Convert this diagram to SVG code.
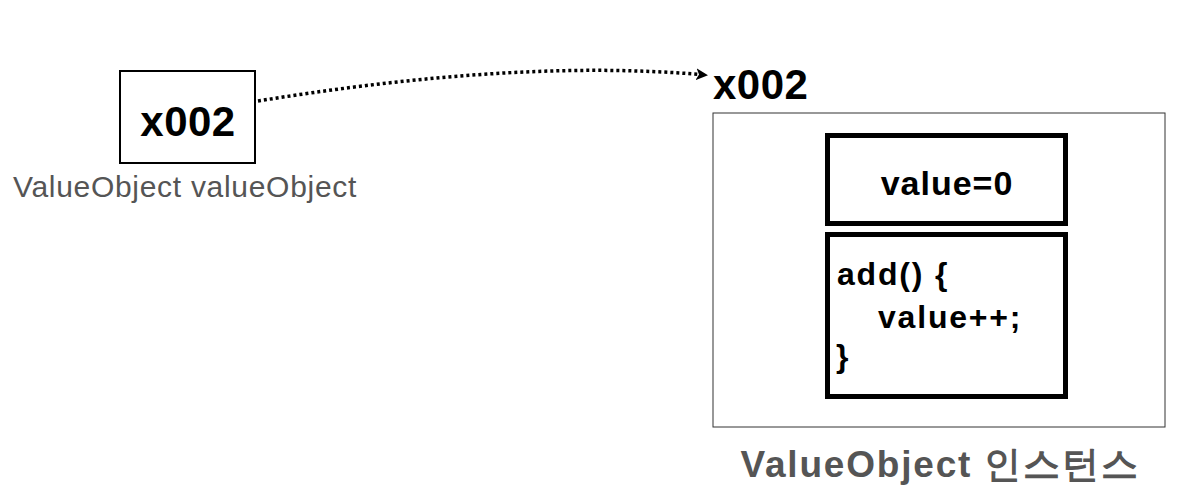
<svg xmlns="http://www.w3.org/2000/svg" width="1203" height="493" viewBox="0 0 1203 493">
<style>
.b{font-family:"Liberation Sans",Arial,sans-serif;font-weight:bold;}
.r{font-family:"Liberation Sans",Arial,sans-serif;}
</style>
<defs>
<marker id="ah" markerWidth="12" markerHeight="12" refX="10" refY="6" orient="auto" markerUnits="userSpaceOnUse">
<path d="M0,0 L12,6 L0,12 L3,6 Z" fill="#000"/>
</marker>
</defs>
<rect width="1203" height="493" fill="#fff"/>
<g id="var">
<rect x="120" y="71" width="135" height="92" fill="#fff" stroke="#000" stroke-width="2"/>
<text x="188" y="136" class="b" font-size="42" letter-spacing="0.5" text-anchor="middle">x002</text>
<text x="185" y="197" class="r" font-size="30" letter-spacing="0.7" fill="#555" text-anchor="middle">ValueObject valueObject</text>
</g>
<g id="instance">
<text x="713" y="99" class="b" font-size="42" letter-spacing="0.5">x002</text>
<rect x="713" y="113" width="452" height="314" fill="#fff" stroke="#333" stroke-width="1"/>
<rect x="827.5" y="135.5" width="238" height="88" fill="#fff" stroke="#000" stroke-width="5"/>
<text x="947" y="195" class="b" font-size="34" letter-spacing="1" text-anchor="middle">value=0</text>
<rect x="827.5" y="234.5" width="238" height="162" fill="#fff" stroke="#000" stroke-width="5"/>
<text class="b" font-size="32" letter-spacing="1.8"><tspan x="837" y="285">add() {</tspan><tspan x="878" y="328">value++;</tspan><tspan x="836" y="367">}</tspan></text>
<text x="940" y="477" class="b" font-size="37" letter-spacing="1.8" fill="#555" text-anchor="middle" font-family="'Liberation Sans','Noto Sans CJK KR',sans-serif">ValueObject 인스턴스</text>
</g>
<g id="connectors">
<path d="M258,101 C400,78 560,62 706,75" fill="none" stroke="#000" stroke-width="3.5" stroke-dasharray="3,3" marker-end="url(#ah)"/>
</g>
</svg>
